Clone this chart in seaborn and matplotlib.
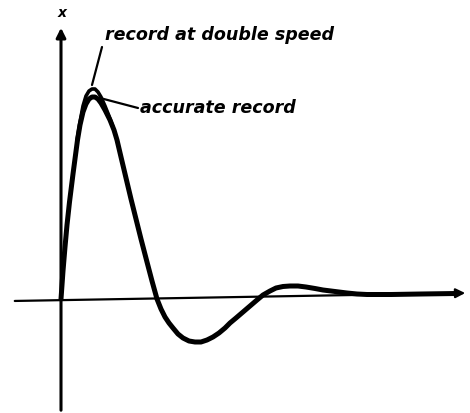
import numpy as np
import pandas as pd
import seaborn as sns
import matplotlib.pyplot as plt

# curve (time, displacement)
t_accurate = [0, 2, 4, 6, 8.5, 12, 16.5, 19, 22, 25, 28, 31, 34, 37, 40, 44, 49, 53, 56,
              60, 65, 70, 75, 80, 86, 91, 96, 100, 104, 108, 112, 117, 122, 128, 134, 140,
              146, 152, 158, 164, 169, 175, 182, 189, 196, 202, 209, 215, 222, 229, 237,
              245, 254, 262, 274, 286, 296, 306, 330, 360, 395]
x_accurate = [0, 28, 52, 74, 97, 125, 159, 174, 187, 195, 200, 202, 202, 200, 196, 189, 179, 169, 159,
              142, 121, 100, 80, 60, 37, 18, 0, -10, -18, -24, -29, -35, -39, -42, -43, -43,
              -41, -38, -34, -29, -24, -19, -13, -7, -1, 4, 8, 11, 12.5, 13, 13,
              12, 10.5, 9, 7.5, 6, 5, 4.5, 4.5, 5, 5.5]

t_double = [16, 19, 22, 25, 28, 31, 34, 37, 40, 44, 48, 52]
x_double = [159, 177, 193, 203, 208, 210, 210, 207, 202, 193, 183, 172]

label_double = "record at double speed"
label_accurate = "accurate record"
axis_label = "x"

df_acc = pd.DataFrame({"t": t_accurate, "x": x_accurate})
df_dbl = pd.DataFrame({"t": t_double, "x": x_double})

sns.set_style("white")
fig = plt.figure(figsize=(4.7, 4.13), dpi=100)
ax = fig.add_axes([0, 0, 1, 1])
ax.set_xlim(-61, 409)
ax.set_ylim(-114, 299)
ax.axis("off")

# axes with arrows
ax.annotate("", xy=(407, 6), xytext=(-49, -2),
            arrowprops=dict(arrowstyle="-|>", lw=1.6, color="black", mutation_scale=14))
ax.annotate("", xy=(0, 274), xytext=(0, -114),
            arrowprops=dict(arrowstyle="-|>", lw=2.2, color="black", mutation_scale=14))
ax.text(1, 286, axis_label, fontsize=10, fontweight="bold", style="italic",
        ha="center", va="center", color="black")

line_kw = dict(color="black", sort=False, solid_capstyle="round", solid_joinstyle="round")
sns.lineplot(data=df_acc, x="t", y="x", ax=ax, lw=3.6, **line_kw)
sns.lineplot(data=df_dbl, x="t", y="x", ax=ax, lw=2.6, **line_kw)

# labels with leader lines
ax.text(44, 264, label_double, fontsize=12.6, fontweight="bold", style="italic",
        ha="left", va="center", color="black")
ax.plot([41, 31], [252, 214], color="black", lw=1.6)
ax.text(79, 191, label_accurate, fontsize=12.6, fontweight="bold", style="italic",
        ha="left", va="center", color="black")
ax.plot([39, 77], [201, 191], color="black", lw=1.6)

fig.savefig("out.png", dpi=100)
